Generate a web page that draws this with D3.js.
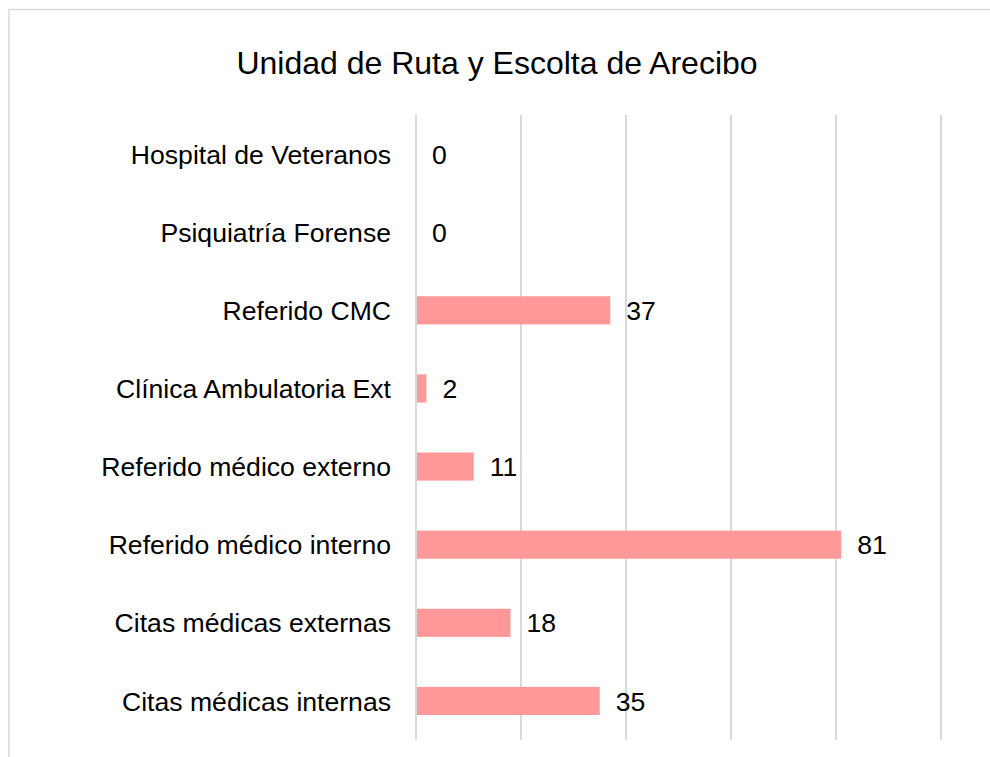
<!DOCTYPE html>
<html><head><meta charset="utf-8">
<script src="https://cdn.jsdelivr.net/npm/d3@7"></script>
<style>body{margin:0;background:#fff;} svg{display:block;}</style>
</head><body>
<script>
const title = "Unidad de Ruta y Escolta de Arecibo";
const categories = ["Hospital de Veteranos","Psiquiatría Forense","Referido CMC","Clínica Ambulatoria Ext","Referido médico externo","Referido médico interno","Citas médicas externas","Citas médicas internas"];
const values = [0,0,37,2,11,81,18,35];
const gridTicks = [0,20,40,60,80,100];

const W=990,H=757;
const svg=d3.select("body").append("svg").attr("width",W).attr("height",H);
svg.append("rect").attr("x",9).attr("y",9.5).attr("width",1000).attr("height",800)
  .attr("fill","#fff").attr("stroke","#d9d9d9").attr("stroke-width",1.5);

const font="'Liberation Sans', Arial, sans-serif";
svg.append("text").attr("x",497).attr("y",73.5).attr("text-anchor","middle")
  .attr("font-family",font).attr("font-size",32).attr("fill","#000").text(title);

const x=d3.scaleLinear().domain([0,100]).range([416,941]);
const y=d3.scaleBand().domain(categories).range([115,740]).paddingInner(0.64).paddingOuter(0.32);

svg.append("g").selectAll("line").data(gridTicks).join("line")
  .attr("x1",d=>x(d)).attr("x2",d=>x(d)).attr("y1",115).attr("y2",740)
  .attr("stroke","#d9d9d9").attr("stroke-width",2);

const data=categories.map((c,i)=>({c,v:values[i]}));
svg.append("g").selectAll("rect").data(data).join("rect")
  .attr("x",x(0)+1).attr("y",d=>y(d.c)).attr("width",d=>Math.max(0,x(d.v)-x(0)-1)).attr("height",y.bandwidth())
  .attr("fill","#ff9999");

svg.append("g").selectAll("text").data(data).join("text")
  .attr("x",d=>x(d.v)+16).attr("y",d=>y(d.c)+y.bandwidth()/2).attr("dy","0.36em")
  .attr("font-family",font).attr("font-size",26.6).attr("fill","#000").text(d=>d.v);

svg.append("g").selectAll("text").data(data).join("text")
  .attr("x",391).attr("y",d=>y(d.c)+y.bandwidth()/2).attr("dy","0.36em").attr("text-anchor","end")
  .attr("font-family",font).attr("font-size",26.6).attr("fill","#000").text(d=>d.c);
</script>
</body></html>
